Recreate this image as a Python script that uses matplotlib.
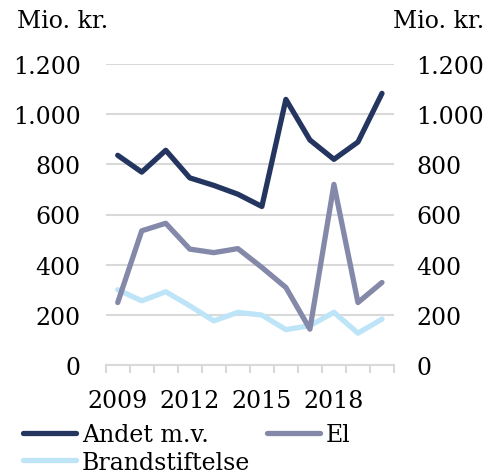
import matplotlib
matplotlib.use('Agg')
import matplotlib.pyplot as plt
from matplotlib.ticker import FixedLocator, FuncFormatter

years = list(range(2009, 2021))
andet = [836, 769, 856, 746, 716, 681, 632, 1059, 897, 820, 889, 1083]
el = [249, 535, 565, 462, 448, 464, 389, 309, 143, 720, 249, 329]
brand = [300, 256, 292, 236, 176, 210, 199, 141, 157, 210, 127, 183]
yticks = [0, 200, 400, 600, 800, 1000, 1200]

plt.rcParams['font.family'] = 'DejaVu Serif'
fs = 17

def dk(v, pos=None):
    return f'{int(v):,}'.replace(',', '.')

fig = plt.figure(figsize=(4.88, 4.77), dpi=100)
ax = fig.add_axes([105.7/488, 1 - 366/477, (394 - 105.7)/488, (366 - 65)/477])

x = list(range(len(years)))
h1, = ax.plot(x, andet, color='#243560', lw=3.8, solid_capstyle='round', solid_joinstyle='round')
h2, = ax.plot(x, el, color='#8589A9', lw=3.8, solid_capstyle='round', solid_joinstyle='round')
h3, = ax.plot(x, brand, color='#BEE4F8', lw=3.8, solid_capstyle='round', solid_joinstyle='round')
# keep Brandstiftelse under El like the original
h3.set_zorder(1.5)
h2.set_zorder(2)
h1.set_zorder(2.5)

ax.set_xlim(-0.5, len(years) - 0.5)
ax.set_ylim(0, 1200)
ax.set_yticks(yticks)
ax.yaxis.set_major_formatter(FuncFormatter(dk))
ax.grid(axis='y', color='#D9D9D9', lw=1.5)
ax.set_axisbelow(True)
for s in ['top', 'left', 'right']:
    ax.spines[s].set_visible(False)
ax.spines['bottom'].set_color('#D9D9D9')
ax.spines['bottom'].set_linewidth(1.5)
ax.tick_params(axis='y', length=0, labelsize=fs, pad=18, colors='black')

# tick marks between categories, labels every third year
ax.xaxis.set_major_locator(FixedLocator([i - 0.5 for i in range(len(years) + 1)]))
ax.xaxis.set_minor_locator(FixedLocator(x[::3]))
ax.xaxis.set_major_formatter(FuncFormatter(lambda v, p: ''))
ax.xaxis.set_minor_formatter(FuncFormatter(lambda v, p: str(years[int(round(v))])))
ax.tick_params(axis='x', which='major', length=6, width=1.5, color='#D9D9D9')
ax.tick_params(axis='x', which='minor', length=0, labelsize=fs, pad=17)

ax2 = ax.twinx()
ax2.set_ylim(0, 1200)
ax2.set_yticks(yticks)
ax2.yaxis.set_major_formatter(FuncFormatter(dk))
for s in ['top', 'left', 'right', 'bottom']:
    ax2.spines[s].set_visible(False)
ax2.tick_params(axis='y', length=0, labelsize=fs, pad=16)

fig.text(17/488, 1 - 22/477, 'Mio. kr.', fontsize=fs, ha='left', va='center')
fig.text(484/488, 1 - 22/477, 'Mio. kr.', fontsize=fs, ha='right', va='center')

fig.legend([h1, h3, h2], ['Andet m.v.', 'Brandstiftelse', 'El'], ncol=2,
           loc='upper left', bbox_to_anchor=(23/488, 1 - 424/477), frameon=False,
           fontsize=fs, borderpad=0, borderaxespad=0, handlelength=2.25,
           handletextpad=0.25, columnspacing=0.7, labelspacing=0.2)

fig.savefig('out.png', dpi=100)
